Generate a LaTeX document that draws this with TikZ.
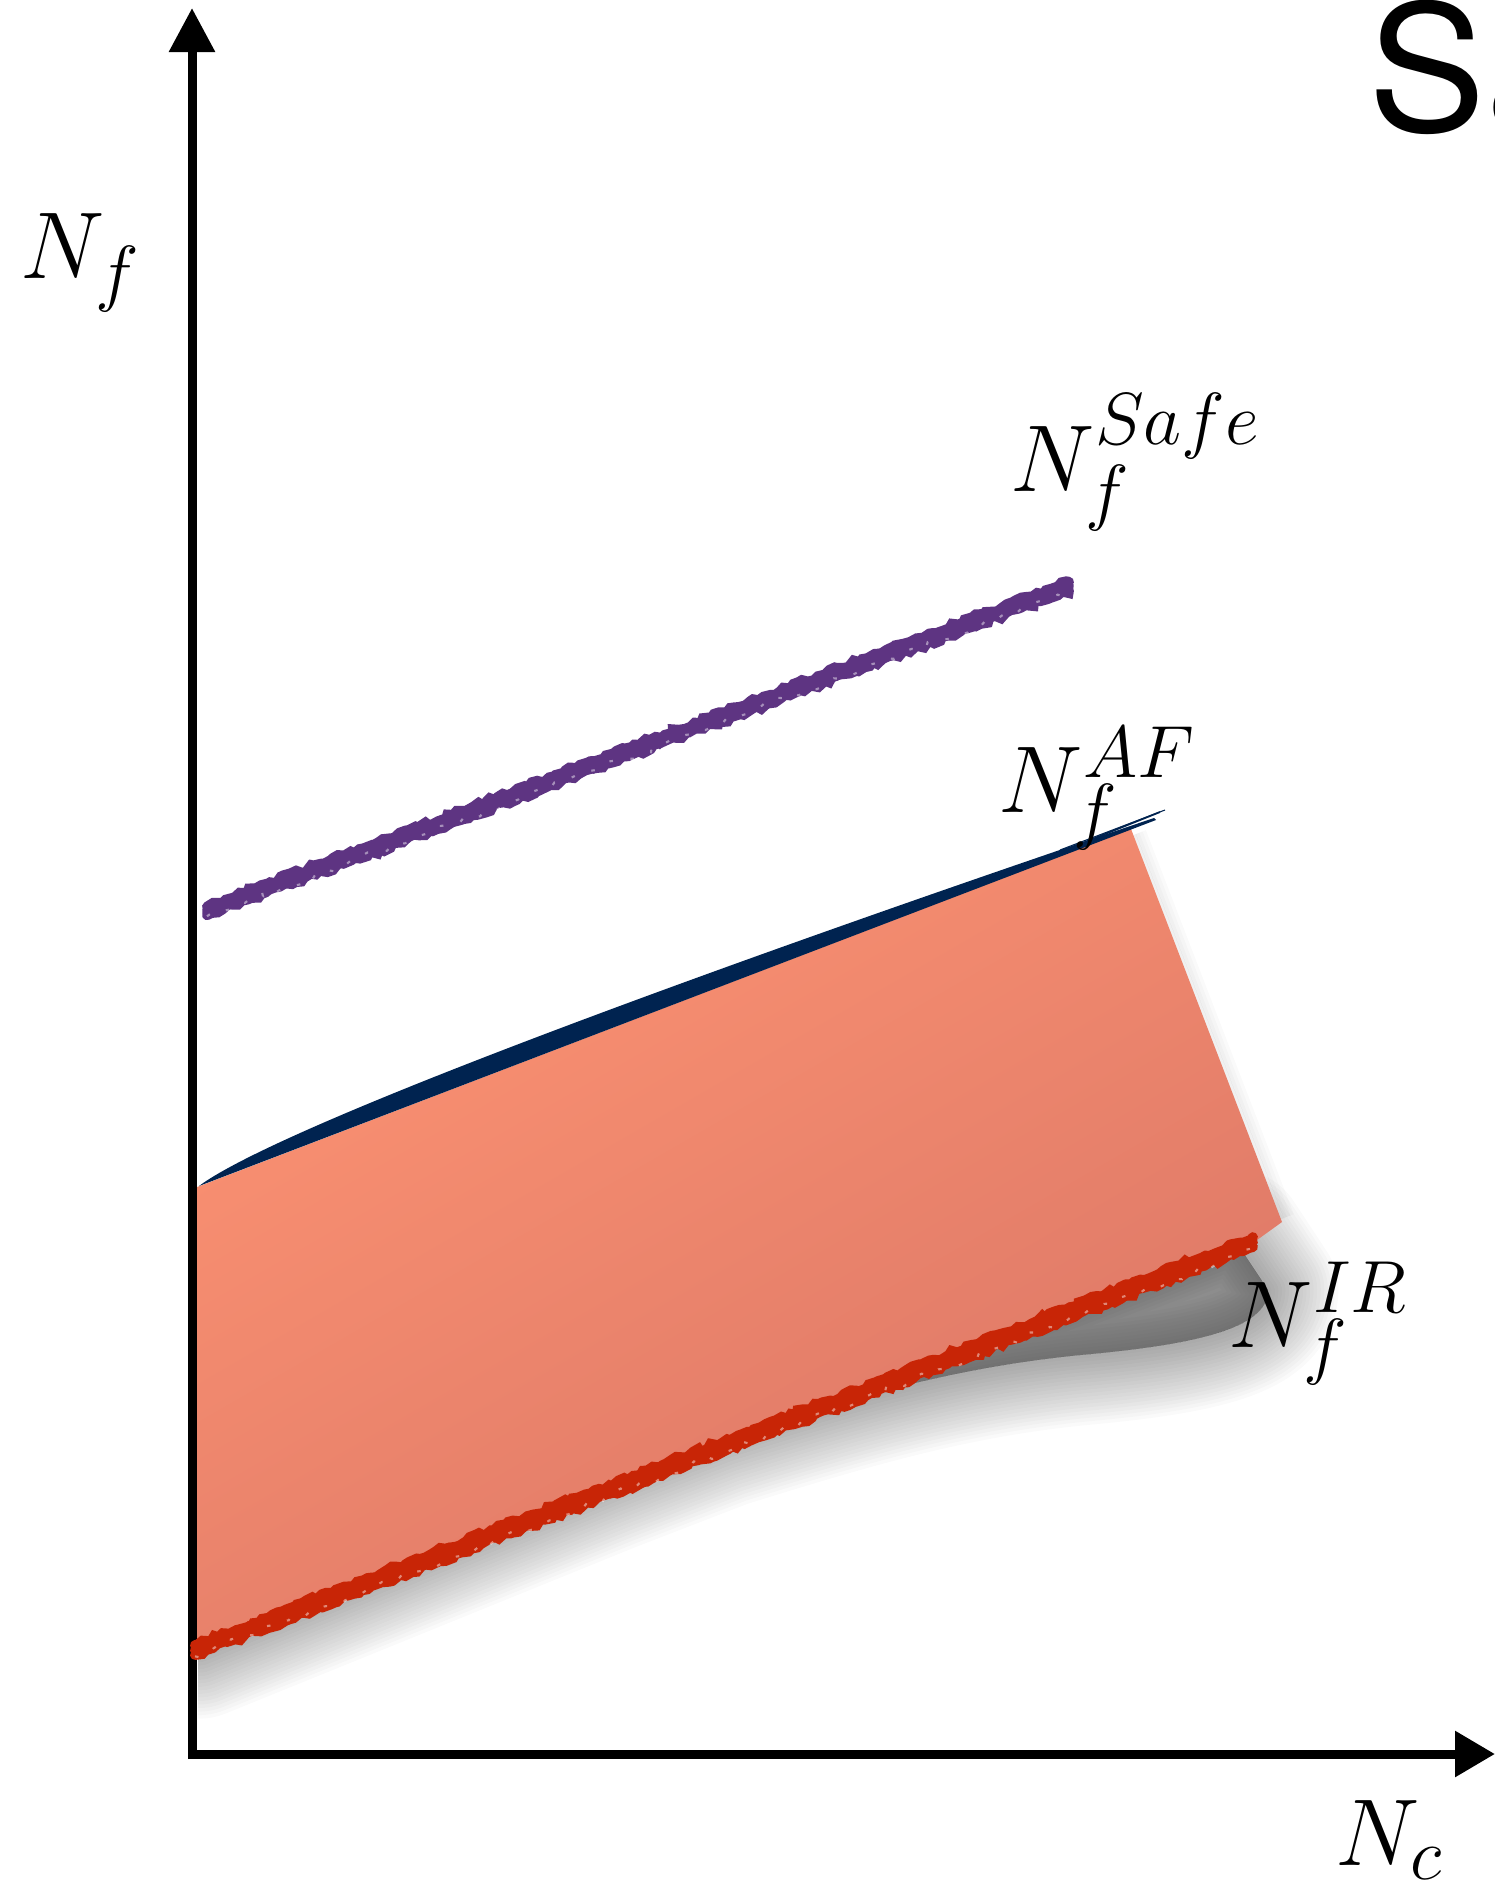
\RequirePackage{fix-cm}
\documentclass[tikz,border=0pt]{standalone}
\usepackage{fontspec}
\newfontfamily\headfont{TeX Gyre Heros}
\DeclareMathSizes{27}{27}{21}{15}
\usetikzlibrary{arrows.meta, decorations.pathmorphing}
\definecolor{safeline}{RGB}{94,52,130}
\definecolor{afline}{RGB}{0,35,80}
\definecolor{irline}{RGB}{200,37,6}
\definecolor{bandtop}{RGB}{252,146,114}
\definecolor{bandbottom}{RGB}{218,118,102}

\begin{document}
\begin{tikzpicture}[x=0.01cm, y=-0.01cm,
  axis/.style={line width=0.09cm},
  crayon/.style={draw=#1, line width=0.1cm, line cap=round, decorate,
                 decoration={random steps, segment length=1.5pt, amplitude=0.7pt}},
  specks/.style={draw=white, line width=0.6pt, opacity=0.45,
                 dash pattern=on 1pt off 5pt, decorate,
                 decoration={random steps, segment length=2pt, amplitude=1pt}},
  lbl/.style={inner sep=0pt, anchor=base west, font=\fontsize{27}{32}\selectfont}
]
  \pgfmathsetseed{7}
  \useasboundingbox (0,0) rectangle (1495,1886);

  % axes and lines
  \coordinate (origin) at (192,1759);
  \coordinate (ytip)   at (192,8);
  \coordinate (xstart) at (188,1754);
  \coordinate (xtip)   at (1495,1754);
  \coordinate (safeA)  at (207,911);
  \coordinate (safeB)  at (1069,586);
  \coordinate (afA)    at (199,1186);
  \coordinate (afB)    at (1154,818);
  \coordinate (irA)    at (195,1650);
  \coordinate (irB)    at (1253,1242);

  % band corners
  \coordinate (bandTL) at (192,1189);
  \coordinate (bandTR) at (1131,829);
  \coordinate (bandBR) at (1282,1222);
  \coordinate (bandBE) at (1257,1240);
  \coordinate (bandBL) at (192,1656);

  % soft shadow under the band
  \begin{scope}
    \clip (198,0) rectangle (1495,1748);
    \foreach \w in {0,2,...,40}
      \filldraw[black, opacity=0.018, line width=\w pt, line join=round]
        (200,1640) -- (1235,1240) -- (1268,1290)
        .. controls (1268,1330) and (1190,1345) .. (1080,1355)
        .. controls (950,1368) and (850,1398) .. (700,1445)
        -- (200,1648) -- cycle;
    \foreach \w in {0,2,...,6}
      \draw[black, opacity=0.02, line width=\w pt] (1136,834) -- (1284,1218);
  \end{scope}

  \shade[top color=bandtop, bottom color=bandbottom, shading angle=30]
    (bandTL) -- (bandTR) -- (bandBR) -- (bandBE) -- (bandBL) -- cycle;

  % N_f^AF boundary
  \fill[afline] (afA) -- (1156,820) -- (afB)
    .. controls (766,949) and (285,1122) .. (afA) -- cycle;
  \draw[afline, line width=0.5pt] (1030,864) -- (1160,812);
  \draw[afline, line width=0.3pt] (1060,850) -- (1165,810);

  % axes
  \draw[axis, -{Triangle[length=0.44cm, width=0.44cm]}] (origin) -- (ytip);
  \draw[axis, -{Triangle[length=0.4cm, width=0.44cm]}] (xstart) -- (xtip);

  % crayon lines
  \foreach \s in {-1.2,0,1.2}
    \draw[crayon=safeline, transform canvas={yshift=\s pt}] (safeA) -- (safeB);
  \draw[specks, transform canvas={yshift=-1.5pt}] (safeA) -- (safeB);
  \foreach \s in {-1.4,0,1.4}
    \draw[crayon=irline, transform canvas={yshift=\s pt}] (irA) -- (irB);
  \draw[specks, transform canvas={yshift=-1.8pt}] (irA) -- (irB);

  % labels
  \node[lbl] (nfAxis)  at (20,279)    {$N_f$};
  \node[lbl] (ncAxis)  at (1335,1865) {$N_c$};
  \node[lbl] (safeLbl) at (1010,492)  {$N_f^{Safe}$};
  \node[lbl] (afLbl)   at (998,812)   {$N_f^{AF}$};
  \node[lbl] (irLbl)   at (1228,1347) {$N_f^{IR}$};
  \node[inner sep=0pt, anchor=base west, font=\headfont\fontsize{50}{60}\selectfont]
    (saTitle) at (1368,132) {Sa};
\end{tikzpicture}
\end{document}
